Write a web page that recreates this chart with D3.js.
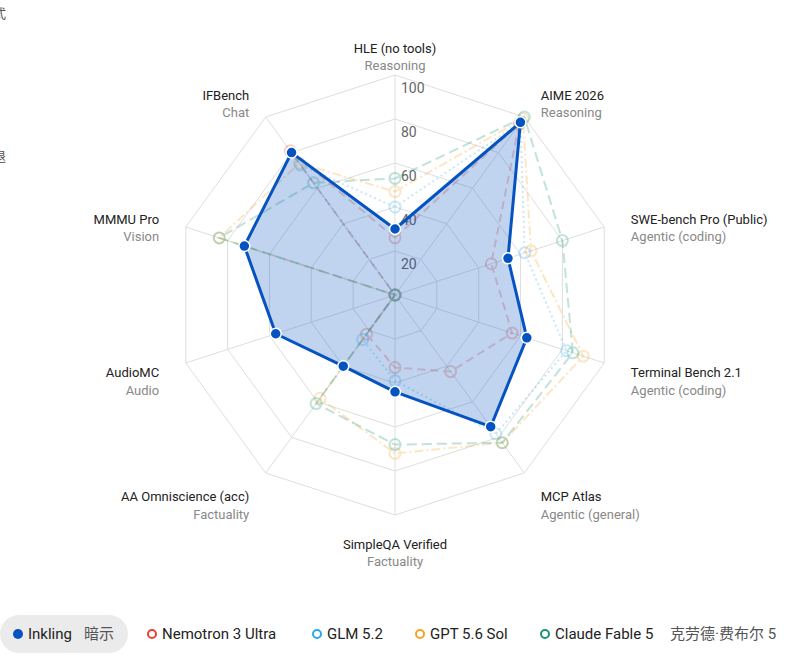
<!DOCTYPE html>
<html>
<head>
<meta charset="utf-8">
<script src="https://cdn.jsdelivr.net/npm/d3@7"></script>
<style>
  body { margin: 0; background: #fff; font-family: Roboto, "Noto Sans CJK SC", sans-serif; overflow: hidden; }
  svg { display: block; }
</style>
</head>
<body>
<div id="chart"></div>
<script>
const axisNames = [
  "HLE (no tools)", "AIME 2026", "SWE-bench Pro (Public)", "Terminal Bench 2.1",
  "MCP Atlas", "SimpleQA Verified", "AA Omniscience (acc)", "AudioMC", "MMMU Pro", "IFBench"
];
const axisGroups = [
  "Reasoning", "Reasoning", "Agentic (coding)", "Agentic (coding)",
  "Agentic (general)", "Factuality", "Factuality", "Audio", "Vision", "Chat"
];
const tickValues = [20, 40, 60, 80, 100];

const inkling  = [30, 97, 54, 63, 74, 44, 40, 57, 72, 80];
const nemotron = [26, 96, 46, 56, 43, 33, 22, 0, 0, 81];
const glm      = [40, 97, 62, 82, 78, 39, 25, 0, 0, 73];
const gpt      = [47, 99, 65, 90, 83, 72, 58, 0, 84, 74];
const claude   = [53, 100, 80, 85, 83, 68, 61, 0, 84, 63];

const seriesNames = ["Inkling", "Nemotron 3 Ultra", "GLM 5.2", "GPT 5.6 Sol", "Claude Fable 5"];

const width = 785, height = 655;
const cx = 395, cy = 295, R = 220;

const svg = d3.select('#chart').append('svg')
  .attr('width', width)
  .attr('height', height);

// text cut off at the left edge, as in the source page
svg.append('text').attr('x', 6).attr('y', 18).attr('text-anchor', 'end')
  .attr('font-size', 13).attr('fill', '#555').text('模式');
svg.append('text').attr('x', 6).attr('y', 161).attr('text-anchor', 'end')
  .attr('font-size', 13).attr('fill', '#555').text('后退');

const n = axisNames.length;
const angle = i => i * 2 * Math.PI / n;
const rScale = d3.scaleLinear().domain([0, 100]).range([0, R]);

const g = svg.append('g').attr('transform', `translate(${cx},${cy})`);

const radial = d3.lineRadial()
  .angle((d, i) => angle(i))
  .radius(d => rScale(d))
  .curve(d3.curveLinearClosed);

// grid rings
tickValues.forEach(t => {
  g.append('path')
    .attr('d', radial(axisNames.map(() => t)))
    .attr('fill', 'none')
    .attr('stroke', '#dedede')
    .attr('stroke-width', 1);
});

// spokes
axisNames.forEach((name, i) => {
  g.append('line')
    .attr('x1', 0).attr('y1', 0)
    .attr('x2', rScale(100) * Math.sin(angle(i)))
    .attr('y2', -rScale(100) * Math.cos(angle(i)))
    .attr('stroke', '#dedede')
    .attr('stroke-width', 1);
});

// axis labels
const labelR = 248;
axisNames.forEach((name, i) => {
  const a = angle(i);
  const s = Math.sin(a);
  const x = labelR * s;
  const y = -labelR * Math.cos(a) + 1;
  const anchor = s > 0.1 ? 'start' : (s < -0.1 ? 'end' : 'middle');
  const t = g.append('text')
    .attr('x', x).attr('y', y)
    .attr('text-anchor', anchor)
    .attr('font-size', 13);
  t.append('tspan').attr('x', x).attr('dy', '0.35em').attr('fill', '#222').text(name);
  t.append('tspan').attr('x', x).attr('dy', 17.5).attr('fill', '#888').text(axisGroups[i]);
});

// tick labels
tickValues.forEach(t => {
  g.append('text')
    .attr('x', 6)
    .attr('y', -rScale(t) + 18)
    .attr('font-size', 14)
    .attr('fill', '#666')
    .text(t);
});

// faded comparison series
const others = [
  { values: nemotron, color: '#e5432d', dash: '8,5' },
  { values: glm,      color: '#2aa8ee', dash: '2,3' },
  { values: gpt,      color: '#f5a327', dash: '9,3,2,3' },
  { values: claude,   color: '#189672', dash: '10,5' }
];

others.forEach(s => {
  const sg = g.append('g').attr('opacity', 0.26);
  sg.append('path')
    .attr('d', radial(s.values))
    .attr('fill', 'none')
    .attr('stroke', s.color)
    .attr('stroke-width', 2)
    .attr('stroke-dasharray', s.dash);
  sg.selectAll('circle')
    .data(s.values)
    .enter().append('circle')
      .attr('cx', (d, i) => rScale(d) * Math.sin(angle(i)))
      .attr('cy', (d, i) => -rScale(d) * Math.cos(angle(i)))
      .attr('r', 5.5)
      .attr('fill', 'none')
      .attr('stroke', s.color)
      .attr('stroke-width', 2);
});

// highlighted series
const blue = '#0553c0';
g.append('path')
  .attr('d', radial(inkling))
  .attr('fill', blue)
  .attr('fill-opacity', 0.25)
  .attr('stroke', blue)
  .attr('stroke-width', 3)
  .attr('stroke-linejoin', 'round');

g.selectAll('.ink-dot')
  .data(inkling)
  .enter().append('circle')
    .attr('class', 'ink-dot')
    .attr('cx', (d, i) => rScale(d) * Math.sin(angle(i)))
    .attr('cy', (d, i) => -rScale(d) * Math.cos(angle(i)))
    .attr('r', 5.5)
    .attr('fill', blue)
    .attr('stroke', '#fff')
    .attr('stroke-width', 1.5);

// legend
const legend = svg.append('g').attr('transform', 'translate(0,634)');
legend.append('rect')
  .attr('x', 0).attr('y', -19)
  .attr('width', 128).attr('height', 38)
  .attr('rx', 19)
  .attr('fill', '#ebebeb');

const legendItems = [
  { name: seriesNames[0], color: blue, filled: true, x: 18, extra: '暗示', extraX: 84 },
  { name: seriesNames[1], color: '#e5432d', x: 152 },
  { name: seriesNames[2], color: '#2aa8ee', x: 317 },
  { name: seriesNames[3], color: '#f5a327', x: 420 },
  { name: seriesNames[4], color: '#189672', x: 545, extra: '克劳德·费布尔 5', extraX: 670 }
];

legendItems.forEach(d => {
  legend.append('circle')
    .attr('cx', d.x).attr('cy', 0)
    .attr('r', d.filled ? 5 : 4)
    .attr('fill', d.filled ? d.color : '#fff')
    .attr('stroke', d.color)
    .attr('stroke-width', d.filled ? 0 : 2);
  legend.append('text')
    .attr('x', d.x + 10).attr('y', 0).attr('dy', '0.35em')
    .attr('font-size', 15)
    .attr('fill', '#222')
    .text(d.name);
  if (d.extra) {
    legend.append('text')
      .attr('x', d.extraX).attr('y', 0).attr('dy', '0.35em')
      .attr('font-size', 15)
      .attr('fill', '#555')
      .text(d.extra);
  }
});
</script>
</body>
</html>
